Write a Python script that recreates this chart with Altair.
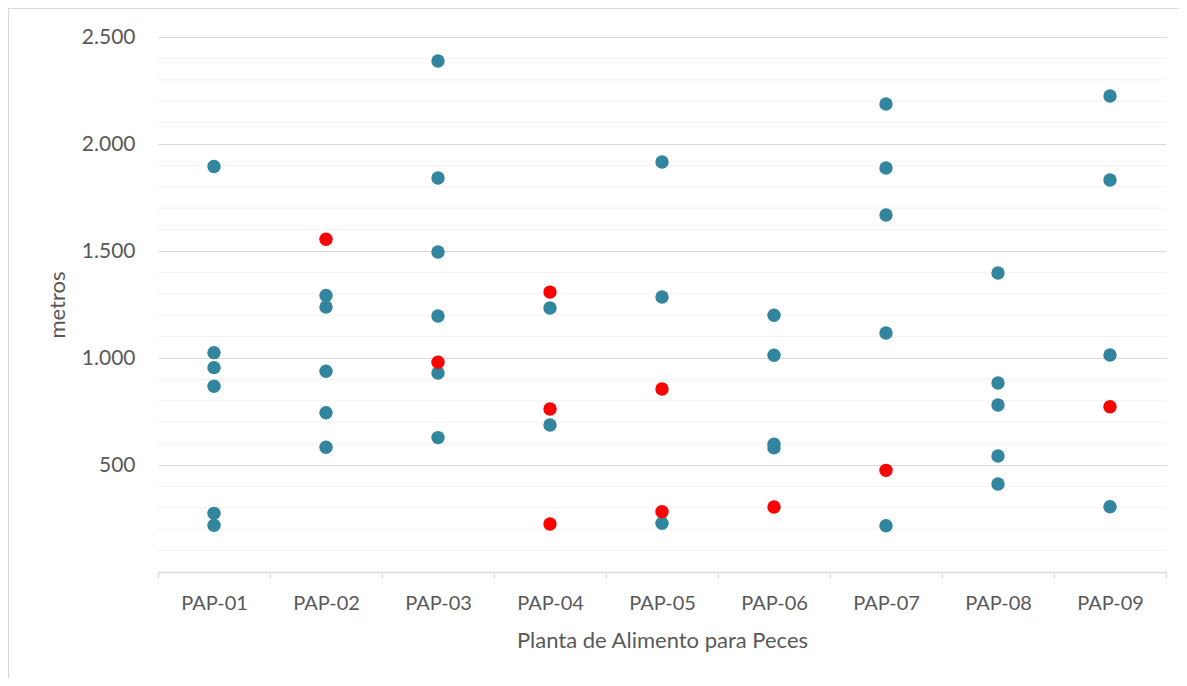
import altair as alt
import pandas as pd

plants = ["PAP-01", "PAP-02", "PAP-03", "PAP-04", "PAP-05", "PAP-06", "PAP-07", "PAP-08", "PAP-09"]

teal_plant = (["PAP-01"] * 6 + ["PAP-02"] * 5 + ["PAP-03"] * 6 + ["PAP-04"] * 2 + ["PAP-05"] * 3
              + ["PAP-06"] * 4 + ["PAP-07"] * 5 + ["PAP-08"] * 5 + ["PAP-09"] * 4)
teal_value = [1895, 1025, 955, 868, 274, 218,
              1292, 1238, 938, 744, 583,
              2388, 1841, 1495, 1196, 930, 628,
              1234, 687,
              1916, 1285, 228,
              1200, 1013, 597, 580,
              2187, 1888, 1668, 1117, 216,
              1397, 883, 780, 542, 411,
              2224, 1832, 1014, 305]

red_plant = ["PAP-02", "PAP-03", "PAP-04", "PAP-04", "PAP-04", "PAP-05", "PAP-05", "PAP-06", "PAP-07", "PAP-09"]
red_value = [1555, 980, 1308, 762, 224, 855, 282, 304, 475, 772]

major_ticks = [500, 1000, 1500, 2000, 2500]
minor_ticks = [100, 200, 300, 400, 600, 700, 800, 900, 1100, 1200, 1300, 1400,
               1600, 1700, 1800, 1900, 2100, 2200, 2300, 2400]

TEAL = "#31859C"
RED = "#FF0000"
TXT = "#595959"
FONT = "Lato"
W, H = 1008, 535
PAD = {"left": 150, "top": 29, "right": 13, "bottom": 106}

pts = pd.DataFrame({
    "planta": teal_plant + red_plant,
    "metros": teal_value + red_value,
    "grupo": ["otros"] * len(teal_value) + ["destacado"] * len(red_value),
})
minor_df = pd.DataFrame({"metros": minor_ticks})
frame_df = pd.DataFrame({"k": [0]})

yscale = alt.Scale(domain=[0, 2500], nice=False, zero=True)
yaxis = alt.Axis(title="metros", values=major_ticks,
                 labelExpr="replace(format(datum.value, ','), ',', '.')",
                 grid=True, gridColor="#D9D9D9", gridWidth=1.2,
                 domain=False, ticks=False,
                 labelFont=FONT, labelFontSize=21, labelColor=TXT, labelPadding=23,
                 titleFont=FONT, titleFontSize=22, titleColor=TXT,
                 titleFontWeight="normal", titlePadding=12)

minor = alt.Chart(minor_df).mark_rule(color="#F2F2F2", strokeWidth=1).encode(
    y=alt.Y("metros:Q", scale=yscale, axis=yaxis)
)

frame_v = alt.Chart(frame_df).mark_rule(color="#D9D9D9", strokeWidth=1.2).encode(
    x=alt.value(-PAD["left"] + 0.5), y=alt.value(-PAD["top"]), y2=alt.value(H + PAD["bottom"])
)
frame_h = alt.Chart(frame_df).mark_rule(color="#D9D9D9", strokeWidth=1.2).encode(
    x=alt.value(-PAD["left"]), x2=alt.value(W + PAD["right"]), y=alt.value(-PAD["top"] + 0.5)
)

points = alt.Chart(pts).mark_circle(size=180, opacity=1).encode(
    x=alt.X("planta:N", sort=plants,
            scale=alt.Scale(type="band", domain=plants, paddingInner=0, paddingOuter=0),
            axis=alt.Axis(title="Planta de Alimento para Peces", labelAngle=0,
                          tickBand="extent", tickSize=6, tickColor="#D9D9D9",
                          domainColor="#D9D9D9", domainWidth=1.5, grid=False,
                          labelFont=FONT, labelFontSize=20, labelColor=TXT, labelPadding=15,
                          titleFont=FONT, titleFontSize=22, titleColor=TXT,
                          titleFontWeight="normal", titlePadding=17)),
    y=alt.Y("metros:Q", scale=yscale, axis=yaxis),
    color=alt.Color("grupo:N", scale=alt.Scale(domain=["otros", "destacado"], range=[TEAL, RED]),
                    legend=None),
    order=alt.Order("grupo:N", sort="descending"),
)

chart = alt.layer(minor, frame_v, frame_h, points).properties(
    width=W, height=H,
    autosize=alt.AutoSizeParams(type="none"),
    padding=PAD,
    background="white",
).configure_view(stroke=None)

chart.save("out.html", embed_options={"renderer": "svg", "actions": False})
